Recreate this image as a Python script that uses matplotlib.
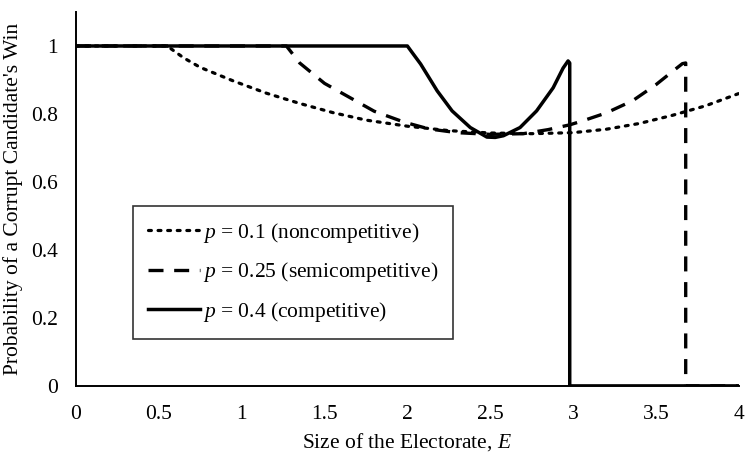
import numpy as np
import matplotlib.pyplot as plt

plt.rcParams['font.family'] = ['Liberation Serif', 'DejaVu Serif']
plt.rcParams['mathtext.fontset'] = 'custom'
plt.rcParams['mathtext.it'] = 'Liberation Serif:italic'
plt.rcParams['mathtext.rm'] = 'Liberation Serif'

# p = 0.1 (noncompetitive)
E_low = [0, 0.55, 0.65, 0.75, 0.95, 1.15, 1.35, 1.55, 1.75, 2.0, 2.25, 2.5,
         2.75, 3.0, 3.2, 3.4, 3.6, 3.8, 4.0]
P_low = [1, 1, 0.965, 0.937, 0.897, 0.861, 0.831, 0.804, 0.782, 0.764, 0.751,
         0.744, 0.742, 0.745, 0.755, 0.772, 0.796, 0.824, 0.86]

# p = 0.25 (semicompetitive)
E_mid = [0, 1.27, 1.35, 1.5, 1.65, 1.8, 1.98, 2.13, 2.3, 2.5, 2.7, 2.85,
         2.98, 3.06, 3.2, 3.36, 3.5, 3.6, 3.66, 3.68, 3.68, 4.0]
P_mid = [1, 1, 0.95, 0.89, 0.849, 0.808, 0.776, 0.756, 0.745, 0.74, 0.742,
         0.754, 0.768, 0.78, 0.803, 0.839, 0.886, 0.925, 0.948, 0.95, 0, 0]

# p = 0.4 (competitive)
E_high = [0, 2.0, 2.03, 2.08, 2.18, 2.27, 2.38, 2.48, 2.53, 2.58, 2.68, 2.78,
          2.88, 2.94, 2.97, 2.98, 2.98, 4.0]
P_high = [1, 1, 0.98, 0.947, 0.868, 0.809, 0.76, 0.732, 0.731, 0.736, 0.76,
          0.809, 0.877, 0.935, 0.956, 0.95, 0, 0]

fig = plt.figure(figsize=(7.48, 4.54), dpi=100)
ax = fig.add_axes([0.1016, 0.150, 0.886, 0.8236])

ax.plot(E_low, P_low, color='black', lw=2.3, linestyle=(0, (0.9, 2.1)),
        dash_capstyle='round', label='$p$ = 0.1 (noncompetitive)')
ax.plot(E_mid, P_mid, color='black', lw=2.4, linestyle=(0, (4.5, 3.2)),
        label='$p$ = 0.25 (semicompetitive)')
ax.plot(E_high, P_high, color='black', lw=2.5, linestyle='-',
        label='$p$ = 0.4 (competitive)')

ax.set_xlim(0, 4)
ax.set_ylim(0, 1.1)
ax.set_xticks([0, 0.5, 1, 1.5, 2, 2.5, 3, 3.5, 4])
ax.set_xticklabels(['0', '0.5', '1', '1.5', '2', '2.5', '3', '3.5', '4'])
ax.set_yticks([0, 0.2, 0.4, 0.6, 0.8, 1])
ax.set_yticklabels(['0', '0.2', '0.4', '0.6', '0.8', '1'])
ax.tick_params(axis='x', length=0, pad=14, labelsize=15.5)
ax.tick_params(axis='y', length=0, pad=13, labelsize=15.5)

for s in ['top', 'right']:
    ax.spines[s].set_visible(False)
for s in ['left', 'bottom']:
    ax.spines[s].set_linewidth(1.4)

ax.set_xlabel('Size of the Electorate, $E$', fontsize=15.5, labelpad=5)
ax.set_ylabel("Probability of a Corrupt Candidate's Win", fontsize=15.5, labelpad=6)

leg = ax.legend(loc='lower left', bbox_to_anchor=(0.086, 0.126), fontsize=15.5,
                frameon=True, fancybox=False, edgecolor='black',
                handlelength=2.4, handletextpad=0.15, borderpad=0.7,
                labelspacing=0.72, borderaxespad=0)
leg.get_frame().set_linewidth(1.2)

fig.savefig('out.png', dpi=100)
